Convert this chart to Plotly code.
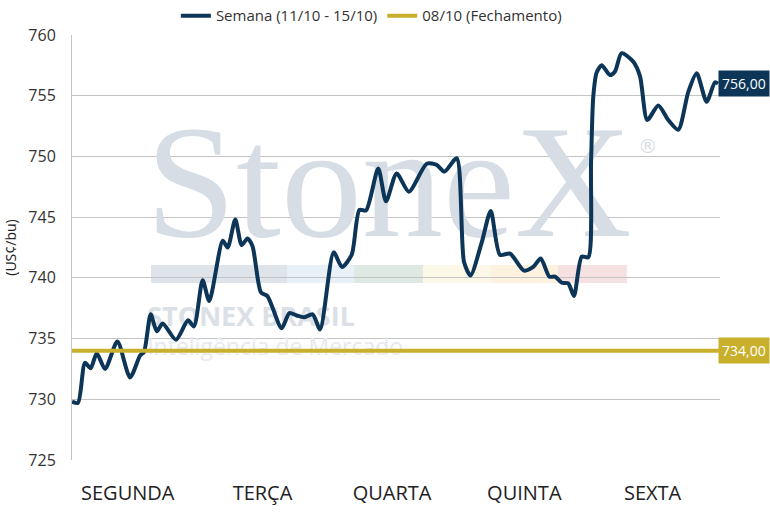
import plotly.graph_objects as go

# ---- data ----
day_labels = ["SEGUNDA", "TERÇA", "QUARTA", "QUINTA", "SEXTA"]
series_week_name = "Semana (11/10 - 15/10)"
series_close_name = "08/10 (Fechamento)"

# time position within the week (in trading days, 0..5)
week_t = [0.000, 0.046, 0.100, 0.144, 0.191, 0.255, 0.350, 0.448, 0.525, 0.556,
          0.607, 0.654, 0.700, 0.802, 0.895, 0.941, 1.008, 1.059, 1.163, 1.201,
          1.260, 1.309, 1.354, 1.393, 1.458, 1.508, 1.618, 1.677, 1.734, 1.790,
          1.857, 1.914, 2.019, 2.083, 2.158, 2.218, 2.269, 2.363, 2.423, 2.505,
          2.599, 2.737, 2.814, 2.874, 2.968, 3.025, 3.075, 3.161, 3.231, 3.302,
          3.380, 3.488, 3.559, 3.617, 3.683, 3.727, 3.779, 3.829, 3.873, 3.933,
          3.984, 4.005, 4.022, 4.048, 4.087, 4.151, 4.190, 4.241, 4.331, 4.383,
          4.439, 4.524, 4.601, 4.678, 4.755, 4.820, 4.897, 4.961, 4.985]
week_price = [729.8, 729.7, 733.0, 732.55, 733.8, 732.5, 734.75, 731.8, 733.6, 733.9,
              737.0, 735.6, 736.25, 734.9, 736.5, 736.0, 739.8, 738.1, 743.05, 742.5,
              744.8, 742.7, 743.25, 742.6, 738.8, 738.5, 735.85, 737.1, 736.9, 736.75,
              737.0, 735.75, 742.1, 740.9, 741.9, 745.6, 745.55, 749.0, 746.3, 748.6,
              747.1, 749.4, 749.3, 748.75, 749.85, 741.3, 740.2, 742.9, 745.5, 741.9,
              742.0, 740.6, 740.9, 741.6, 740.1, 740.1, 739.6, 739.55, 738.5, 741.75,
              741.7, 749.5, 754.9, 756.9, 757.5, 756.7, 757.0, 758.5, 757.8, 756.6,
              753.0, 754.2, 753.0, 752.2, 755.3, 756.85, 754.5, 756.1, 756.0]
close_price = 734.0
last_price = 756.0

y_ticks = [725, 730, 735, 740, 745, 750, 755, 760]

NAVY = "#0c3558"
GOLD = "#c8b02c"
FONT = "Open Sans"
WM = "#d7dde5"

fig = go.Figure()

# ---- watermark (drawn under the lines) ----
fig.add_trace(go.Scatter(x=[0.57], y=[746.8], mode="text", text=["StoneX"],
                         textposition="middle right",
                         textfont=dict(family="Liberation Serif", size=162, color=WM),
                         hoverinfo="skip", showlegend=False, cliponaxis=False))
fig.add_trace(go.Scatter(x=[4.37], y=[750.7], mode="text", text=["®"],
                         textposition="middle right",
                         textfont=dict(family="DejaVu Sans", size=19, color=WM),
                         hoverinfo="skip", showlegend=False, cliponaxis=False))
fig.add_trace(go.Scatter(x=[0.58], y=[736.6], mode="text", text=["<b>STONEX BRASIL</b>"],
                         textposition="middle right",
                         textfont=dict(family=FONT, size=27, color="#dbe0e7"),
                         hoverinfo="skip", showlegend=False, cliponaxis=False))
fig.add_trace(go.Scatter(x=[0.58], y=[734.1], mode="text", text=["Inteligência de Mercado"],
                         textposition="middle right",
                         textfont=dict(family=FONT, size=23, color="#e6e9ee"),
                         hoverinfo="skip", showlegend=False, cliponaxis=False))

# ---- series ----
fig.add_trace(go.Scatter(x=week_t, y=week_price, mode="lines", name=series_week_name,
                         line=dict(color=NAVY, width=4, shape="spline", smoothing=0.7)))
fig.add_trace(go.Scatter(x=[0, 5], y=[close_price, close_price], mode="lines",
                         name=series_close_name, line=dict(color=GOLD, width=4)))

# coloured strip of the watermark
strip_cols = ["#dfe4eb", "#e8f0f8", "#dfe9e3", "#fbf8e7", "#fdf2e0", "#f6e1e2"]
strip_x = [0.61, 1.659, 2.176, 2.708, 3.233, 3.750, 4.282]
for i, c in enumerate(strip_cols):
    fig.add_shape(type="rect", xref="x", yref="y", x0=strip_x[i], x1=strip_x[i + 1],
                  y0=739.57, y1=741.05, fillcolor=c, line=dict(width=0), layer="below")

# value tags at the right
fig.add_annotation(x=1, xref="paper", y=last_price, yref="y", xanchor="left",
                   xshift=-2, text=f"{last_price:.2f}".replace(".", ","), showarrow=False,
                   bgcolor=NAVY, font=dict(family=FONT, size=14, color="white"), borderpad=3)
fig.add_annotation(x=1, xref="paper", y=close_price, yref="y", xanchor="left",
                   xshift=-2, text=f"{close_price:.2f}".replace(".", ","), showarrow=False,
                   bgcolor=GOLD, font=dict(family=FONT, size=14, color="white"), borderpad=3)

fig.update_layout(
    width=770, height=513,
    margin=dict(l=72, r=50, t=35, b=53, autoexpand=False),
    paper_bgcolor="white", plot_bgcolor="white",
    font=dict(family=FONT, color="#333333"),
    legend=dict(orientation="h", x=0.462, xanchor="center", y=1.045, yanchor="middle",
                font=dict(size=15, color="#333333"), itemwidth=30, tracegroupgap=0),
    hovermode=False,
)
fig.update_xaxes(range=[0, 5], showgrid=False, zeroline=False, showline=False,
                 automargin=False,
                 tickmode="array", tickvals=[0.43, 1.47, 2.47, 3.49, 4.48],
                 ticktext=day_labels, ticks="", ticklabelstandoff=19,
                 tickfont=dict(size=20, color="#222222"))
fig.update_yaxes(range=[725, 760], tickvals=y_ticks, showgrid=True, gridcolor="#c4c4c4",
                 gridwidth=1, zeroline=False, showline=True, linecolor="#c4c4c4",
                 automargin=False,
                 ticks="", ticklabelstandoff=12, tickfont=dict(size=16, color="#333333"),
                 title=dict(text="(US¢/bu)", standoff=8,
                            font=dict(size=14, color="#222222")))

fig.write_html("out.html", config={"displayModeBar": False},
               post_script="document.body.style.margin='0';")
